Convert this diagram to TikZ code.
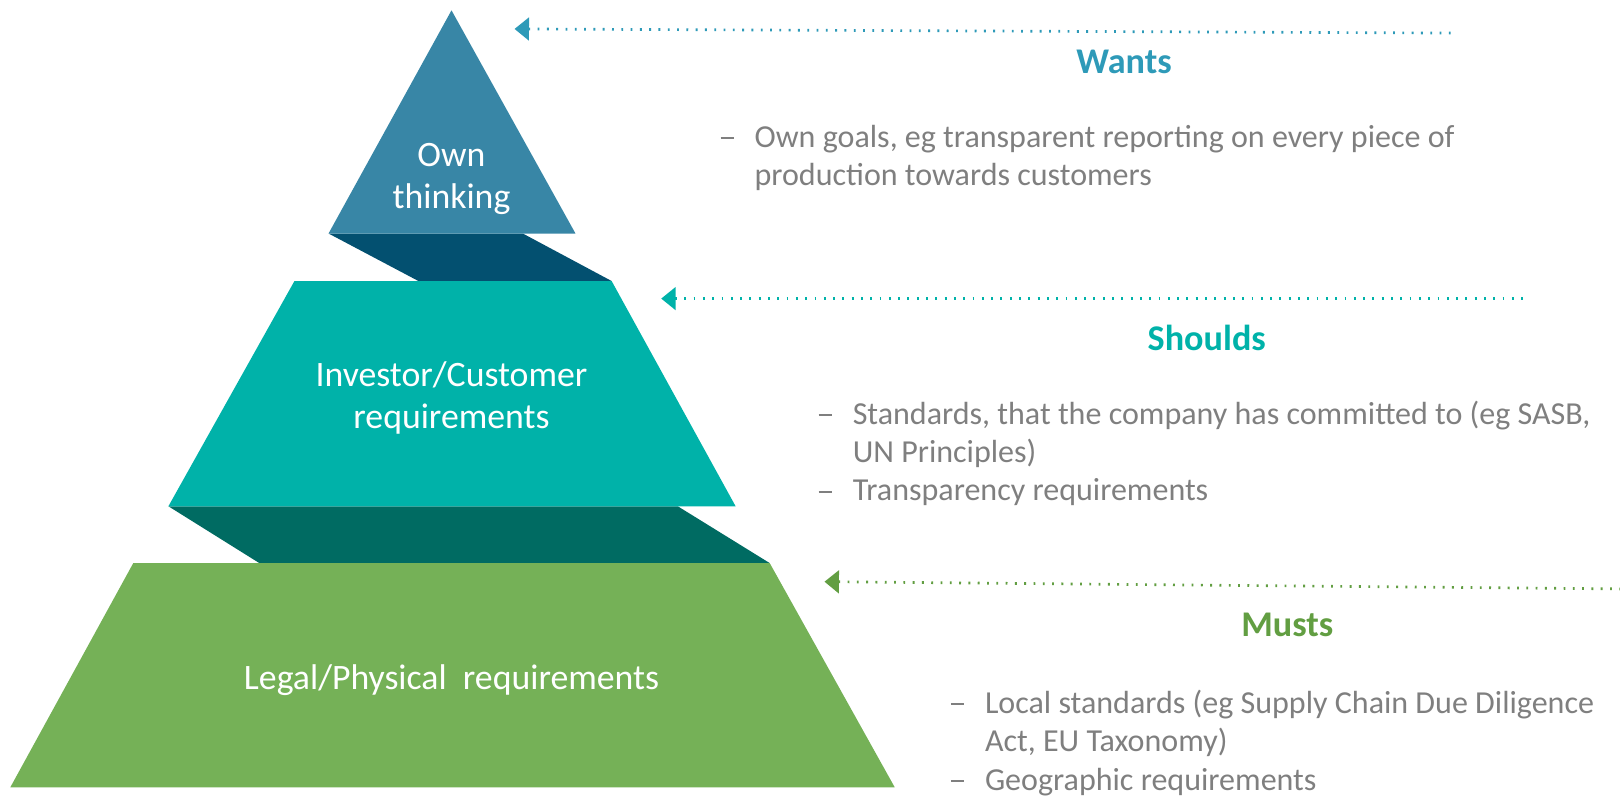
\documentclass[tikz,border=0pt]{standalone}
\usepackage{fontspec}
\setmainfont{Carlito}
\usetikzlibrary{arrows.meta}

\definecolor{ownblue}{RGB}{56,134,166}
\definecolor{ownbluedark}{RGB}{3,80,112}
\definecolor{invteal}{RGB}{0,178,169}
\definecolor{invtealdark}{RGB}{0,107,98}
\definecolor{legalgreen}{RGB}{117,177,87}
\definecolor{wantsblue}{RGB}{46,154,184}
\definecolor{mustsgreen}{RGB}{98,158,66}
\definecolor{bulletgray}{RGB}{127,127,127}

\tikzset{
  levellabel/.style={font=\fontsize{17.3}{20.5}\selectfont, text=white, align=center},
  headlabel/.style={font=\fontsize{17.5}{20}\selectfont\bfseries},
  bullettext/.style={font=\fontsize{15.5}{18.5}\selectfont, text=bulletgray, align=left, anchor=west, inner sep=0pt},
  dotline/.style={line width=1.3pt, dash pattern=on 0.9pt off 3.6pt, {Triangle[width=11pt,length=7pt]}-}
}
\newcommand{\bitem}{\makebox[16.5pt][l]{\rule[0.26em]{6.5pt}{1pt}}}
\newcommand{\bindent}{\hspace*{16.5pt}}

\begin{document}
\begin{tikzpicture}[x=0.5pt,y=-0.5pt]
        \useasboundingbox (0,0) rectangle (1568,772);

        % Draw the top triangle with its dark band
        \fill[ownbluedark] (318,226) -- (506,226) -- (592,272) -- (405,272) -- cycle;
        \fill[ownblue] (437,10) -- (557,226) -- (318,226) -- cycle;

        % Draw the middle layer with its dark band
        \fill[invtealdark] (163,490) -- (656,490) -- (745,545) -- (251,545) -- cycle;
        \fill[invteal] (285,272) -- (592,272) -- (712,490) -- (163,490) -- cycle;

        % Draw the bottom layer
        \fill[legalgreen] (129,545) -- (745,545) -- (866,762) -- (10,762) -- cycle;

        % Layer names
        \node[levellabel] (own) at (437,173) {Own\\thinking};
        \node[levellabel] (investor) at (437,385) {Investor/Customer\\requirements};
        \node[levellabel] (legal) at (437,658) {Legal/Physical\ \ requirements};

        % Headings on the right
        \node[headlabel, text=wantsblue] (wants) at (1088,60) {Wants};
        \node[headlabel, text=invteal] (shoulds) at (1168,327) {Shoulds};
        \node[headlabel, text=mustsgreen] (musts) at (1246,605) {Musts};

        % Bullet lists
        \node[bullettext] (wantslist) at (697,153)
            {\bitem Own goals, eg transparent reporting on every piece of\\
             \bindent production towards customers};
        \node[bullettext] (shouldslist) at (792,439)
            {\bitem Standards, that the company has committed to (eg SASB,\\
             \bindent UN Principles)\\
             \bitem Transparency requirements};
        \node[bullettext] (mustslist) at (920,719)
            {\bitem Local standards (eg Supply Chain Due Diligence\\
             \bindent Act, EU Taxonomy)\\
             \bitem Geographic requirements};

        % Dotted arrows pointing at the layers
        \coordinate (wantstip) at (498,28);
        \coordinate (wantsend) at (1405,32);
        \coordinate (shouldstip) at (640,289);
        \coordinate (shouldsend) at (1478,289);
        \coordinate (muststip) at (798,563);
        \coordinate (mustsend) at (1568,570);
        \foreach \tip/\tail/\col in {wantstip/wantsend/wantsblue, shouldstip/shouldsend/invteal, muststip/mustsend/mustsgreen} {
            \draw[dotline, \col] (\tip) -- (\tail); % arrow head sits on the layer side
        }
    \end{tikzpicture}
\end{document}
